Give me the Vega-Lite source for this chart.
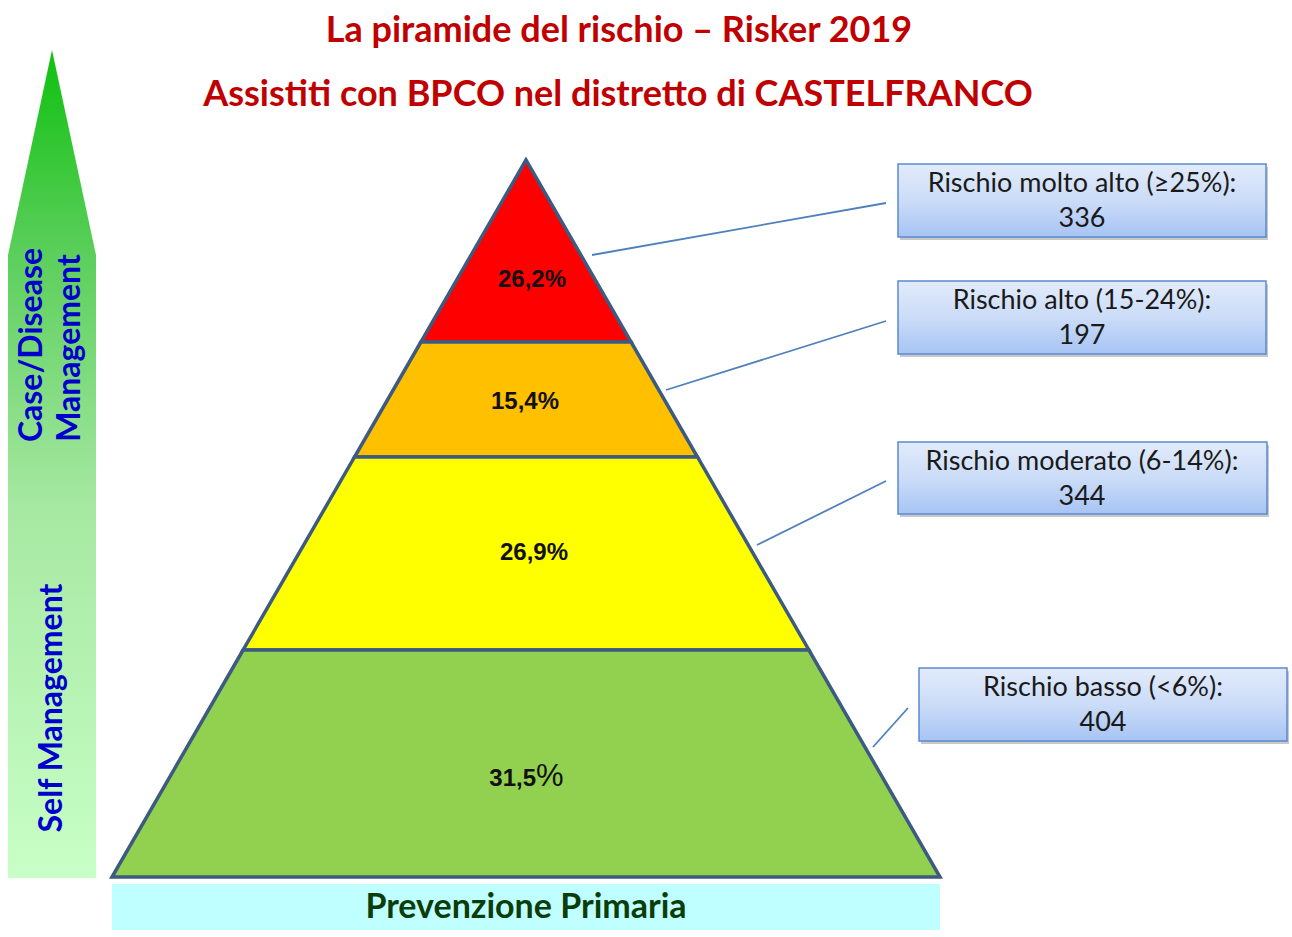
{
  "$schema": "https://vega.github.io/schema/vega-lite/v6.json",
  "width": 1292,
  "height": 937,
  "autosize": {"type": "fit", "contains": "padding"},
  "padding": 0,
  "background": "white",
  "config": {"view": {"stroke": null}},
  "datasets": {
    "arrow": [
      {"y": 50, "xl": 52, "xr": 52},
      {"y": 255, "xl": 8, "xr": 96},
      {"y": 878, "xl": 8, "xr": 96}
    ],
    "pyr": [
      {"band": "molto alto", "y": 160, "xl": 526, "xr": 526},
      {"band": "molto alto", "y": 342, "xl": 420.9, "xr": 631.1},
      {"band": "alto", "y": 342, "xl": 420.9, "xr": 631.1},
      {"band": "alto", "y": 457, "xl": 354.5, "xr": 697.5},
      {"band": "moderato", "y": 457, "xl": 354.5, "xr": 697.5},
      {"band": "moderato", "y": 650, "xl": 243.1, "xr": 808.9},
      {"band": "basso", "y": 650, "xl": 243.1, "xr": 808.9},
      {"band": "basso", "y": 877, "xl": 112, "xr": 940}
    ],
    "pct": [
      {"label": "26,2%", "x": 532, "y": 280},
      {"label": "15,4%", "x": 525, "y": 402},
      {"label": "26,9%", "x": 534, "y": 553}
    ],
    "boxes": [
      {"x": 898, "x2": 1266, "y": 164, "y2": 237, "cx": 1082, "l1": "Rischio molto alto (≥25%):", "l2": "336"},
      {"x": 898, "x2": 1266, "y": 281, "y2": 354, "cx": 1082, "l1": "Rischio alto (15-24%):", "l2": "197"},
      {"x": 898, "x2": 1267, "y": 442, "y2": 514, "cx": 1082, "l1": "Rischio moderato (6-14%):", "l2": "344"},
      {"x": 919, "x2": 1287, "y": 668, "y2": 741, "cx": 1103, "l1": "Rischio basso (<6%):", "l2": "404"}
    ],
    "links": [
      {"x": 592, "y": 255, "x2": 886, "y2": 203},
      {"x": 666, "y": 390, "x2": 886, "y2": 321},
      {"x": 757, "y": 545, "x2": 886, "y2": 481},
      {"x": 873, "y": 747, "x2": 908, "y2": 708}
    ]
  },
  "layer": [
    {
      "data": {"name": "arrow"},
      "mark": {"type": "area", "orient": "horizontal", "color": {"gradient": "linear", "x1": 0, "y1": 0, "x2": 0, "y2": 1, "stops": [
        {"offset": 0, "color": "#10c010"},
        {"offset": 0.25, "color": "#5ccf5c"},
        {"offset": 0.55, "color": "#a6e8a2"},
        {"offset": 1, "color": "#c8ffc6"}
      ]}},
      "encoding": {
        "y": {"field": "y", "type": "quantitative", "scale": {"domain": [0, 937], "reverse": true, "nice": false, "zero": false}, "axis": null},
        "x": {"field": "xl", "type": "quantitative", "scale": {"domain": [0, 1292], "nice": false, "zero": false}, "axis": null, "stack": null},
        "x2": {"field": "xr"}
      }
    },
    {
      "data": {"values": [{"x": 112, "x2": 940, "y": 884, "y2": 930, "t": "Prevenzione Primaria", "cx": 526, "cy": 908}]},
      "layer": [
        {
          "mark": {"type": "rect", "color": "#c0ffff"},
          "encoding": {
            "x": {"field": "x", "type": "quantitative", "axis": null},
            "x2": {"field": "x2"},
            "y": {"field": "y", "type": "quantitative", "axis": null},
            "y2": {"field": "y2"}
          }
        },
        {
          "mark": {"type": "text", "font": "Lato", "fontWeight": "bold", "fontSize": 34, "color": "#0a3d0a", "align": "center", "baseline": "middle"},
          "encoding": {
            "x": {"field": "cx", "type": "quantitative", "axis": null},
            "y": {"field": "cy", "type": "quantitative", "axis": null},
            "text": {"field": "t"}
          }
        }
      ]
    },
    {
      "data": {"name": "pyr"},
      "mark": {"type": "area", "orient": "horizontal", "stroke": "#3d5a80", "strokeWidth": 3.5, "strokeJoin": "miter", "fillOpacity": 1},
      "encoding": {
        "y": {"field": "y", "type": "quantitative", "axis": null},
        "x": {"field": "xl", "type": "quantitative", "axis": null, "stack": null},
        "x2": {"field": "xr"},
        "color": {"field": "band", "type": "nominal", "legend": null, "scale": {"domain": ["molto alto", "alto", "moderato", "basso"], "range": ["#ff0000", "#ffc000", "#ffff00", "#92d050"]}}
      }
    },
    {
      "data": {"name": "pct"},
      "mark": {"type": "text", "font": "Liberation Sans", "fontWeight": "bold", "fontSize": 24, "color": "#111111", "align": "center", "baseline": "middle"},
      "encoding": {
        "x": {"field": "x", "type": "quantitative", "axis": null},
        "y": {"field": "y", "type": "quantitative", "axis": null},
        "text": {"field": "label"}
      }
    },
    {
      "data": {"values": [{"a": "31,5", "b": "%", "x": 536, "y": 779}]},
      "layer": [
        {
          "mark": {"type": "text", "font": "Liberation Sans", "fontWeight": "bold", "fontSize": 24, "color": "#111111", "align": "right", "baseline": "middle"},
          "encoding": {
            "x": {"field": "x", "type": "quantitative", "axis": null},
            "y": {"field": "y", "type": "quantitative", "axis": null},
            "text": {"field": "a"}
          }
        },
        {
          "mark": {"type": "text", "font": "Liberation Sans", "fontSize": 31, "color": "#111111", "align": "left", "baseline": "middle", "dy": -2},
          "encoding": {
            "x": {"field": "x", "type": "quantitative", "axis": null},
            "y": {"field": "y", "type": "quantitative", "axis": null},
            "text": {"field": "b"}
          }
        }
      ]
    },
    {
      "data": {"name": "links"},
      "mark": {"type": "rule", "color": "#4f81bd", "strokeWidth": 1.8},
      "encoding": {
        "x": {"field": "x", "type": "quantitative", "axis": null},
        "y": {"field": "y", "type": "quantitative", "axis": null},
        "x2": {"field": "x2"},
        "y2": {"field": "y2"}
      }
    },
    {
      "data": {"name": "boxes"},
      "layer": [
        {
          "mark": {"type": "rect", "color": "#9a9a9a", "opacity": 0.55, "xOffset": 2, "x2Offset": 2, "yOffset": 3, "y2Offset": 3},
          "encoding": {
            "x": {"field": "x", "type": "quantitative", "axis": null},
            "x2": {"field": "x2"},
            "y": {"field": "y", "type": "quantitative", "axis": null},
            "y2": {"field": "y2"}
          }
        },
        {
          "mark": {"type": "rect", "stroke": "#5b8ad0", "strokeWidth": 1.5, "fill": {"gradient": "linear", "x1": 0, "y1": 0, "x2": 0, "y2": 1, "stops": [
            {"offset": 0, "color": "#e2ebfb"},
            {"offset": 0.5, "color": "#cbdcf8"},
            {"offset": 1, "color": "#a7c4f4"}
          ]}},
          "encoding": {
            "x": {"field": "x", "type": "quantitative", "axis": null},
            "x2": {"field": "x2"},
            "y": {"field": "y", "type": "quantitative", "axis": null},
            "y2": {"field": "y2"}
          }
        },
        {
          "mark": {"type": "text", "font": "Lato", "fontSize": 27, "color": "#1a1a1a", "align": "center", "baseline": "middle", "dy": -17},
          "encoding": {
            "x": {"field": "cx", "type": "quantitative", "axis": null},
            "y": {"field": "y", "type": "quantitative", "axis": null},
            "yOffset": {"value": 37},
            "text": {"field": "l1"}
          }
        },
        {
          "mark": {"type": "text", "font": "Lato", "fontSize": 27, "color": "#1a1a1a", "align": "center", "baseline": "middle", "dy": 18},
          "encoding": {
            "x": {"field": "cx", "type": "quantitative", "axis": null},
            "y": {"field": "y", "type": "quantitative", "axis": null},
            "yOffset": {"value": 37},
            "text": {"field": "l2"}
          }
        }
      ]
    },
    {
      "data": {"values": [
        {"t": "La piramide del rischio – Risker 2019", "x": 619, "y": 31},
        {"t": "Assistiti con BPCO nel distretto di CASTELFRANCO", "x": 618, "y": 95}
      ]},
      "mark": {"type": "text", "font": "Lato", "fontWeight": "bold", "fontSize": 36, "color": "#c00000", "align": "center", "baseline": "middle"},
      "encoding": {
        "x": {"field": "x", "type": "quantitative", "axis": null},
        "y": {"field": "y", "type": "quantitative", "axis": null},
        "text": {"field": "t"}
      }
    },
    {
      "data": {"values": [
        {"t": "Case/Disease", "x": 32, "y": 345},
        {"t": "Management", "x": 70, "y": 348},
        {"t": "Self Management", "x": 52, "y": 708}
      ]},
      "mark": {"type": "text", "font": "Lato", "fontWeight": "bold", "fontSize": 32, "color": "#0000cc", "align": "center", "baseline": "middle", "angle": 270},
      "encoding": {
        "x": {"field": "x", "type": "quantitative", "axis": null},
        "y": {"field": "y", "type": "quantitative", "axis": null},
        "text": {"field": "t"}
      }
    }
  ]
}
